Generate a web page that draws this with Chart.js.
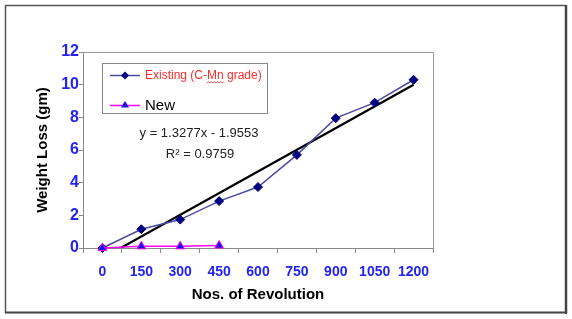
<!DOCTYPE html>
<html>
<head>
<meta charset="utf-8">
<script src="https://cdn.jsdelivr.net/npm/chart.js@4"></script>
<style>
  html, body { margin: 0; padding: 0; background: #fff; }
  #c { display: block; }
</style>
</head>
<body>
<canvas id="c" width="572" height="319"></canvas>
<script>
const categories = ['0', '150', '300', '450', '600', '750', '900', '1050', '1200'];
const existingValues = [0, 1.15, 1.74, 2.87, 3.73, 5.7, 7.95, 8.9, 10.3];
const newValues = [0, 0.1, 0.1, 0.15, null, null, null, null, null];
const trendX = [1.47, 9];
const trendY = [0, 9.99];
const yTicks = [0, 2, 4, 6, 8, 10, 12];
const legendLabels = ['Existing (C-Mn grade)', 'New'];
const equationText = 'y = 1.3277x - 1.9553';
const r2Text = 'R² = 0.9759';

const FONT = '"Liberation Sans", Arial, sans-serif';

const framePlugin = {
  id: 'frame',
  beforeDatasetsDraw(chart) {
    const { ctx, chartArea: a } = chart;
    ctx.save();
    ctx.strokeStyle = '#9a9a9a';
    ctx.lineWidth = 1;
    ctx.beginPath();
    ctx.moveTo(a.left, a.top + 0.5);
    ctx.lineTo(a.right + 0.5, a.top + 0.5);
    ctx.lineTo(a.right + 0.5, a.bottom);
    ctx.stroke();
    ctx.restore();
  },
  afterDraw(chart) {
    const { ctx, chartArea: a } = chart;
    ctx.save();
    // outer frame
    ctx.strokeStyle = '#555';
    ctx.lineWidth = 1.5;
    ctx.beginPath();
    ctx.moveTo(5.5, 313);
    ctx.lineTo(5.5, 5.5);
    ctx.lineTo(566, 5.5);
    ctx.stroke();
    ctx.strokeStyle = '#444';
    ctx.lineWidth = 2;
    ctx.beginPath();
    ctx.moveTo(5, 312.5);
    ctx.lineTo(566, 312.5);
    ctx.stroke();
    ctx.lineWidth = 2.5;
    ctx.beginPath();
    ctx.moveTo(566, 5);
    ctx.lineTo(566, 314);
    ctx.stroke();

    // legend box
    const lx = 102, ly = 63, lw = 165, lh = 50;
    ctx.fillStyle = '#fff';
    ctx.fillRect(lx, ly, lw, lh);
    ctx.strokeStyle = '#8a8a8a';
    ctx.lineWidth = 1;
    ctx.strokeRect(lx + 0.5, ly + 0.5, lw, lh);

    // entry 1
    ctx.strokeStyle = '#4B4BA0';
    ctx.lineWidth = 1.5;
    ctx.beginPath();
    ctx.moveTo(110, 75.5);
    ctx.lineTo(140, 75.5);
    ctx.stroke();
    ctx.fillStyle = '#000080';
    ctx.beginPath();
    ctx.moveTo(125, 71.5);
    ctx.lineTo(129, 75.5);
    ctx.lineTo(125, 79.5);
    ctx.lineTo(121, 75.5);
    ctx.closePath();
    ctx.fill();
    ctx.font = '12px ' + FONT;
    ctx.fillStyle = '#FF2A2A';
    ctx.textBaseline = 'middle';
    ctx.textAlign = 'left';
    ctx.fillText(legendLabels[0], 145, 76);
    // spell-check wavy underline under "Mn"
    const pre = ctx.measureText('Existing (C-').width;
    const mnW = ctx.measureText('Mn').width;
    ctx.strokeStyle = '#FF2A2A';
    ctx.lineWidth = 0.8;
    ctx.beginPath();
    let sx = 145 + pre;
    ctx.moveTo(sx, 83);
    let up = true;
    for (let x = sx + 1.5; x <= sx + mnW + 0.5; x += 1.5) {
      ctx.lineTo(x, up ? 81.5 : 83);
      up = !up;
    }
    ctx.stroke();

    // entry 2
    ctx.strokeStyle = '#FF00FF';
    ctx.lineWidth = 1.5;
    ctx.beginPath();
    ctx.moveTo(110, 105.5);
    ctx.lineTo(140, 105.5);
    ctx.stroke();
    ctx.fillStyle = '#1010E0';
    ctx.beginPath();
    ctx.moveTo(125, 101);
    ctx.lineTo(129, 107.5);
    ctx.lineTo(121, 107.5);
    ctx.closePath();
    ctx.fill();
    ctx.font = '15px ' + FONT;
    ctx.fillStyle = '#000';
    ctx.fillText(legendLabels[1], 145, 106);

    // trendline equation
    ctx.font = '13px ' + FONT;
    ctx.fillStyle = '#222';
    ctx.textAlign = 'center';
    ctx.fillText(equationText, 199, 133);
    ctx.fillText(r2Text, 200, 154);
    ctx.restore();
  }
};

new Chart(document.getElementById('c'), {
  type: 'line',
  data: {
    labels: categories,
    datasets: [
      {
        label: 'Trend',
        data: trendX.map((x, i) => ({ x: x, y: trendY[i] })),
        xAxisID: 'x2',
        borderColor: '#000',
        borderWidth: 2.2,
        pointRadius: 0,
        fill: false,
        order: 2
      },
      {
        label: legendLabels[0],
        data: existingValues,
        borderColor: '#4B4BA0',
        borderWidth: 1.5,
        pointStyle: 'rectRot',
        pointRadius: 4.5,
        pointBackgroundColor: '#000080',
        pointBorderColor: '#000080',
        pointBorderWidth: 1,
        fill: false,
        clip: false,
        order: 1
      },
      {
        label: legendLabels[1],
        data: newValues,
        borderColor: '#FF00FF',
        borderWidth: 1.5,
        pointStyle: 'triangle',
        pointRadius: 5,
        pointBackgroundColor: '#1010E0',
        pointBorderColor: '#FF00FF',
        pointBorderWidth: 1,
        fill: false,
        clip: false,
        spanGaps: false,
        order: 0
      }
    ]
  },
  options: {
    responsive: false,
    animation: false,
    layout: { padding: { top: 52, right: 139, left: 0, bottom: 0 } },
    plugins: {
      legend: { display: false },
      tooltip: { enabled: false }
    },
    scales: {
      x: {
        type: 'category',
        offset: true,
        grid: { offset: true, drawOnChartArea: false, tickLength: 5, color: '#888' },
        border: { color: '#888', width: 1 },
        ticks: {
          color: '#2323F0',
          font: { family: FONT, size: 14, weight: 'bold' },
          padding: 11,
          maxRotation: 0,
          autoSkip: false
        },
        title: {
          display: true,
          text: 'Nos. of Revolution',
          color: '#000',
          font: { family: FONT, size: 15, weight: 'bold' },
          padding: { top: 0, bottom: 15 }
        },
        afterFit(scale) { scale.height = 71; }
      },
      x2: {
        type: 'linear',
        display: false,
        min: 0.5,
        max: 9.5
      },
      y: {
        min: 0,
        max: 12,
        afterBuildTicks(scale) { scale.ticks = yTicks.map(v => ({ value: v })); },
        grid: { drawOnChartArea: false, tickLength: 4, color: '#888' },
        border: { color: '#888', width: 1 },
        ticks: {
          color: '#2323F0',
          font: { family: FONT, size: 16, weight: 'bold' },
          padding: 0
        },
        title: {
          display: true,
          text: 'Weight Loss (gm)',
          color: '#000',
          font: { family: FONT, size: 15, weight: 'bold' },
          padding: { top: 34, bottom: 0 }
        },
        afterFit(scale) { scale.width = 83; }
      }
    }
  },
  plugins: [framePlugin]
});
</script>
</body>
</html>
